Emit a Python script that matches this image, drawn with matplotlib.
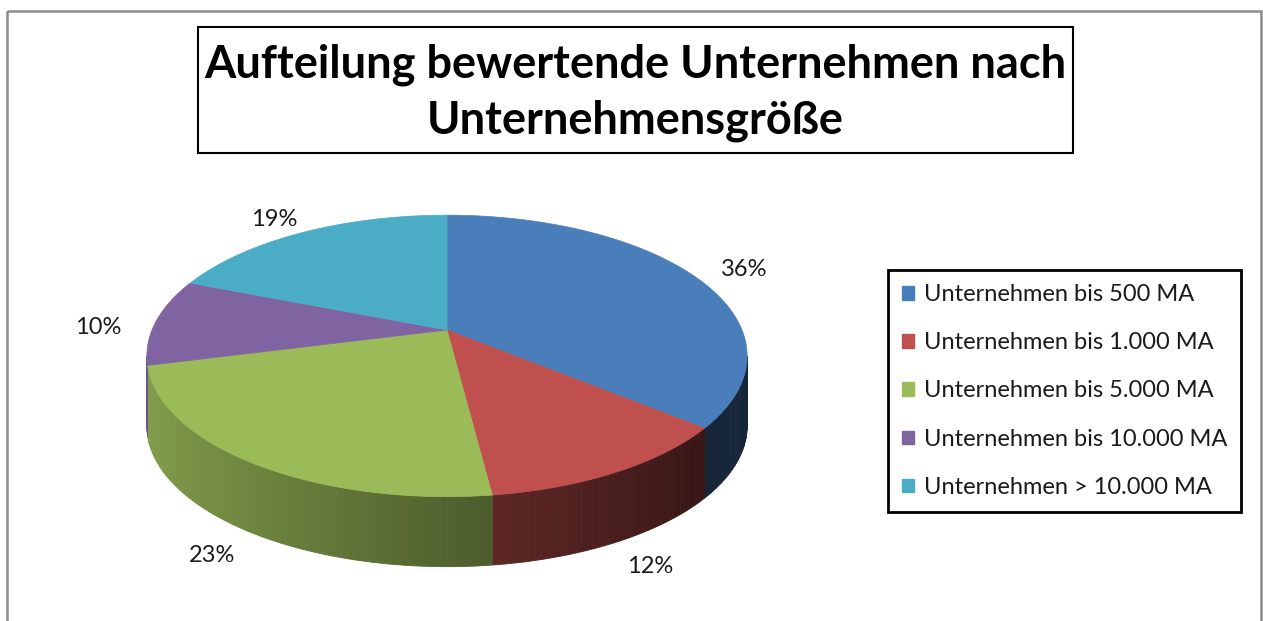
import numpy as np
import matplotlib
matplotlib.use("Agg")
import matplotlib.pyplot as plt
from matplotlib.patches import Polygon, Rectangle, Patch
from matplotlib.colors import to_rgb

# data
categories = ["Unternehmen bis 500 MA", "Unternehmen bis 1.000 MA", "Unternehmen bis 5.000 MA",
              "Unternehmen bis 10.000 MA", "Unternehmen > 10.000 MA"]
shares = [36, 12, 23, 10, 19]
colors = ["#4A7EBB", "#C0504D", "#9BBB59", "#8064A2", "#4BACC6"]
title = "Aufteilung bewertende Unternehmen nach\nUnternehmensgröße"

plt.rcParams['font.family'] = ['Lato', 'DejaVu Sans']

W, H = 1263, 621
fig = plt.figure(figsize=(W / 100, H / 100), dpi=100)
ax = fig.add_axes([0, 0, 1, 1])
ax.set_xlim(0, W)
ax.set_ylim(H, 0)
ax.axis('off')

# pie geometry in pixels, tilted disc with a bit of perspective
cx, cy = 447, 330
rx, ry = 295, 136
k = 0.184
depth = 70


def project(theta, r=1.0):
    # theta in degrees, clockwise from 12 o'clock
    t = np.radians(theta)
    x = r * np.sin(t)
    y = -r * np.cos(t)
    s = 1 / (1 - k * y)
    return cx + rx * x * s, cy + ry * y * s


def shade(color, theta):
    nx = np.sin(np.radians(theta))
    f = max(0.3, 0.85 - 0.32 * (nx + 1))
    return tuple(np.array(to_rgb(color)) * f)


edges = np.concatenate([[0], np.cumsum(shares) / sum(shares) * 360])
vis_lo = np.degrees(np.arccos(-k))
vis_hi = 360 - vis_lo

# side walls (only the front part is visible)
for i in range(len(shares)):
    a0 = max(edges[i], vis_lo)
    a1 = min(edges[i + 1], vis_hi)
    if a1 <= a0:
        continue
    steps = np.linspace(a0, a1, max(2, int(a1 - a0) + 1))
    for t0, t1 in zip(steps[:-1], steps[1:]):
        x0, y0 = project(t0)
        x1, y1 = project(t1)
        c = shade(colors[i], (t0 + t1) / 2)
        quad = [(x0, y0), (x1, y1), (x1, y1 + depth), (x0, y0 + depth)]
        ax.add_patch(Polygon(quad, closed=True, fc=c, ec=c, lw=0.6))

# top faces
for i in range(len(shares)):
    th = np.linspace(edges[i], edges[i + 1], 200)
    xs, ys = project(th)
    pts = np.column_stack([np.r_[cx, xs], np.r_[cy, ys]])
    ax.add_patch(Polygon(pts, closed=True, fc=colors[i], ec=colors[i], lw=0.5))

# percentage labels outside the slices
for i, v in enumerate(shares):
    mid = (edges[i] + edges[i + 1]) / 2
    px, py = project(mid)
    lx = cx + (px - cx) * 1.2
    ly = cy + (py - cy) * 1.13
    yd = -np.cos(np.radians(mid))
    ly += (depth + 6) * np.clip((yd - k + 0.3) / 0.6, 0, 1)
    ax.text(lx, ly, f"{v}%", ha='center', va='center', fontsize=17, color='#1a1a1a')

# outer frame and title box
ax.add_patch(Rectangle((7, 11), 1254, 700, fill=False, ec='#8c8c8c', lw=1.8))
ax.add_patch(Rectangle((198, 27), 875, 126, fill=False, ec='black', lw=1.5))
ax.text(635.5, 93, title, ha='center', va='center', fontsize=32.5, fontweight='bold',
        linespacing=1.4, color='black')

handles = [Patch(fc=c, ec=c) for c in colors]
leg = fig.legend(handles=handles, labels=categories, loc='upper left',
                 bbox_to_anchor=(888 / W, 1 - 270 / H), bbox_transform=fig.transFigure,
                 frameon=True, fancybox=False, edgecolor='black', framealpha=1,
                 borderaxespad=0, fontsize=17, handlelength=0.5, handleheight=0.5,
                 handletextpad=0.42, labelspacing=1.15, borderpad=0.6)
leg.get_frame().set_linewidth(2)
for t in leg.get_texts():
    t.set_color('#1a1a1a')

fig.savefig("out.png", dpi=100)
